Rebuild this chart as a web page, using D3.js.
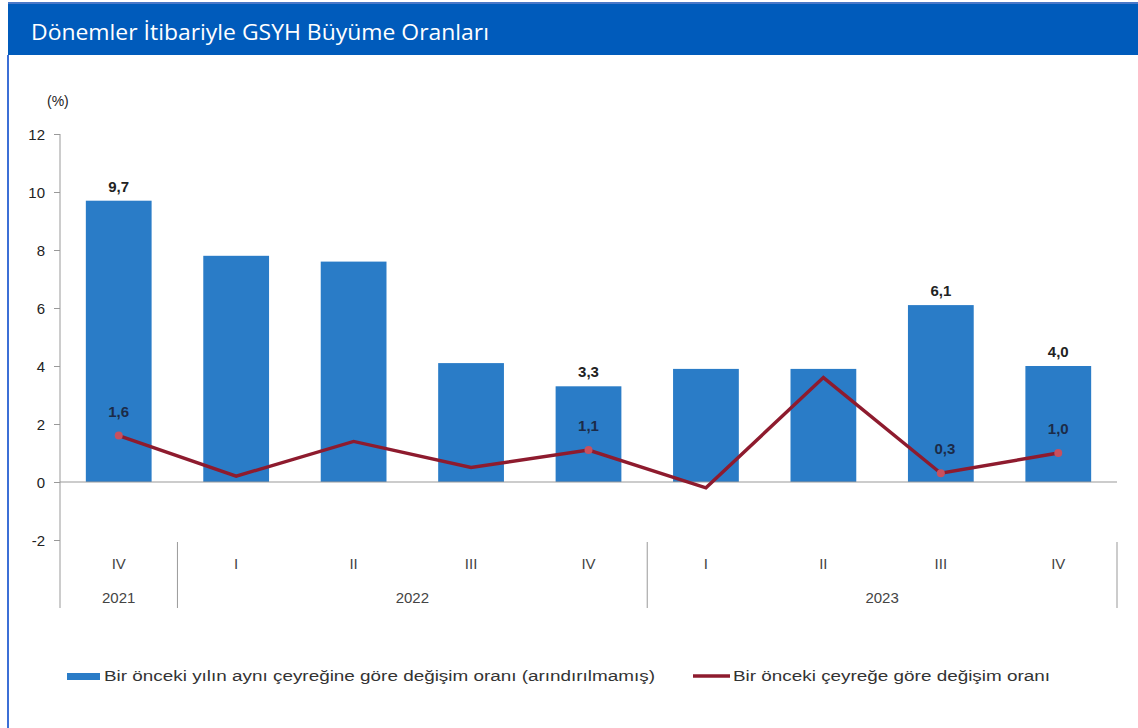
<!DOCTYPE html>
<html>
<head>
<meta charset="utf-8">
<script src="https://cdn.jsdelivr.net/npm/d3@7"></script>
<style>
  body { margin: 0; background: #fff; }
  svg { display: block; }
</style>
</head>
<body>
<svg id="chart" width="1138" height="728"></svg>
<script>
// quarters and years on the x axis
var quarters = ["IV", "I", "II", "III", "IV", "I", "II", "III", "IV"];
var years = [
  { label: "2021", from: 0, to: 0 },
  { label: "2022", from: 1, to: 4 },
  { label: "2023", from: 5, to: 8 }
];
// year-on-year change (bars), quarter-on-quarter change (line)
var yoy = [9.7, 7.8, 7.6, 4.1, 3.3, 3.9, 3.9, 6.1, 4.0];
var qoq = [1.6, 0.2, 1.4, 0.5, 1.1, -0.2, 3.6, 0.3, 1.0];
// which points get a value label
var barLabelled = [true, false, false, false, true, false, false, true, true];
var lineLabelled = [true, false, false, false, true, false, false, true, true];
var yTicks = [-2, 0, 2, 4, 6, 8, 10, 12];

var svg = d3.select("#chart");
var font = "'Liberation Sans', Arial, sans-serif";
var fmt = function (v) { return v.toFixed(1).replace(".", ","); };

// frame and header
svg.append("rect").attr("x", 8).attr("y", 2).attr("width", 1130).attr("height", 3).attr("fill", "#4a78c8");
svg.append("rect").attr("x", 8).attr("y", 4).attr("width", 1130).attr("height", 51).attr("fill", "#005bbb");
svg.append("rect").attr("x", 7).attr("y", 55).attr("width", 2).attr("height", 673).attr("fill", "#3c6fd6");
svg.append("text")
   .attr("x", 31).attr("y", 40)
   .attr("fill", "#fff")
   .style("font-family", "'Open Sans', 'Noto Sans', sans-serif")
   .style("font-size", "21px")
   .attr("textLength", 458).attr("lengthAdjust", "spacingAndGlyphs")
   .text("Dönemler İtibariyle GSYH Büyüme Oranları");

var left = 60, right = 1117;
var x = d3.scaleBand().domain(d3.range(quarters.length)).range([left, right]).paddingInner(0.44).paddingOuter(0.22);
var y = d3.scaleLinear().domain([-2, 12]).range([540, 134]);

var g = svg.append("g");

// y axis
var yAxis = d3.axisLeft(y).tickValues(yTicks).tickSize(6).tickFormat(function (d) { return String(d); });
var ya = g.append("g").attr("transform", "translate(" + left + ",0)").call(yAxis);
ya.select(".domain").remove();
ya.selectAll(".tick line").attr("stroke", "#999");
ya.selectAll(".tick text")
  .attr("x", -15).attr("dy", "0.35em")
  .attr("fill", "#222")
  .style("font-family", font).style("font-size", "15px");
g.append("line").attr("x1", left).attr("x2", left).attr("y1", y(12)).attr("y2", 608).attr("stroke", "#999");

g.append("text").attr("x", 47).attr("y", 106).attr("fill", "#222")
 .style("font-family", font).style("font-size", "14px").text("(%)");

// bars
g.selectAll("rect.bar").data(yoy).enter().append("rect")
 .attr("class", "bar")
 .attr("x", function (d, i) { return x(i); })
 .attr("width", x.bandwidth())
 .attr("y", function (d) { return y(Math.max(0, d)); })
 .attr("height", function (d) { return Math.abs(y(d) - y(0)); })
 .attr("fill", "#2a7cc7");

// zero line
g.append("line").attr("x1", left).attr("x2", right).attr("y1", y(0)).attr("y2", y(0)).attr("stroke", "#999");

// bar labels
g.selectAll("text.blab").data(yoy).enter().filter(function (d, i) { return barLabelled[i]; })
 .append("text").attr("class", "blab")
 .attr("x", function (d) { return x(yoy.indexOf(d)) + x.bandwidth() / 2; })
 .attr("y", function (d) { return y(d) - 9; })
 .attr("text-anchor", "middle").attr("fill", "#222")
 .style("font-family", font).style("font-size", "15px").style("font-weight", "bold")
 .text(fmt);

// line
var cx = function (i) { return x(i) + x.bandwidth() / 2; };
var line = d3.line().x(function (d, i) { return cx(i); }).y(function (d) { return y(d); });
g.append("path").datum(qoq).attr("d", line)
 .attr("fill", "none").attr("stroke", "#8e1b2e").attr("stroke-width", 3.4);

var pts = qoq.map(function (d, i) { return { v: d, i: i }; }).filter(function (p) { return lineLabelled[p.i]; });
g.selectAll("circle.pt").data(pts).enter().append("circle")
 .attr("cx", function (p) { return cx(p.i); }).attr("cy", function (p) { return y(p.v); })
 .attr("r", 4).attr("fill", "#c8505e");
g.selectAll("text.llab").data(pts).enter().append("text")
 .attr("x", function (p) { return cx(p.i) + (p.i === 7 ? 4 : 0); })
 .attr("y", function (p) { return y(p.v) - 19; })
 .attr("text-anchor", "middle").attr("fill", "#1c2b48")
 .style("font-family", font).style("font-size", "15px").style("font-weight", "bold")
 .text(function (p) { return fmt(p.v); });

// category labels
g.selectAll("text.q").data(quarters).enter().append("text")
 .attr("x", function (d, i) { return cx(i); }).attr("y", 569)
 .attr("text-anchor", "middle").attr("fill", "#444")
 .style("font-family", font).style("font-size", "15px")
 .text(function (d) { return d; });

var step = x.step();
years.forEach(function (yr) {
  var x0 = cx(yr.from) - step / 2, x1 = cx(yr.to) + step / 2;
  g.append("text").attr("x", (x0 + x1) / 2).attr("y", 603)
   .attr("text-anchor", "middle").attr("fill", "#444")
   .style("font-family", font).style("font-size", "15px").text(yr.label);
  if (yr.from > 0) {
    g.append("line").attr("x1", x0).attr("x2", x0).attr("y1", 542).attr("y2", 608).attr("stroke", "#999");
  }
});
g.append("line").attr("x1", right).attr("x2", right).attr("y1", 542).attr("y2", 608).attr("stroke", "#999");

// legend
var lg = svg.append("g").attr("transform", "translate(0,676)");
lg.append("rect").attr("x", 67).attr("y", -3).attr("width", 33).attr("height", 7).attr("fill", "#2a7cc7");
lg.append("text").attr("x", 104).attr("y", 5).attr("fill", "#333")
  .style("font-family", font).style("font-size", "14px")
  .attr("textLength", 551).attr("lengthAdjust", "spacingAndGlyphs")
  .text("Bir önceki yılın aynı çeyreğine göre değişim oranı (arındırılmamış)");
lg.append("line").attr("x1", 693).attr("x2", 730).attr("y1", 0).attr("y2", 0)
  .attr("stroke", "#8e1b2e").attr("stroke-width", 3.4);
lg.append("text").attr("x", 733).attr("y", 5).attr("fill", "#333")
  .style("font-family", font).style("font-size", "14px")
  .attr("textLength", 317).attr("lengthAdjust", "spacingAndGlyphs")
  .text("Bir önceki çeyreğe göre değişim oranı");
</script>
</body>
</html>
